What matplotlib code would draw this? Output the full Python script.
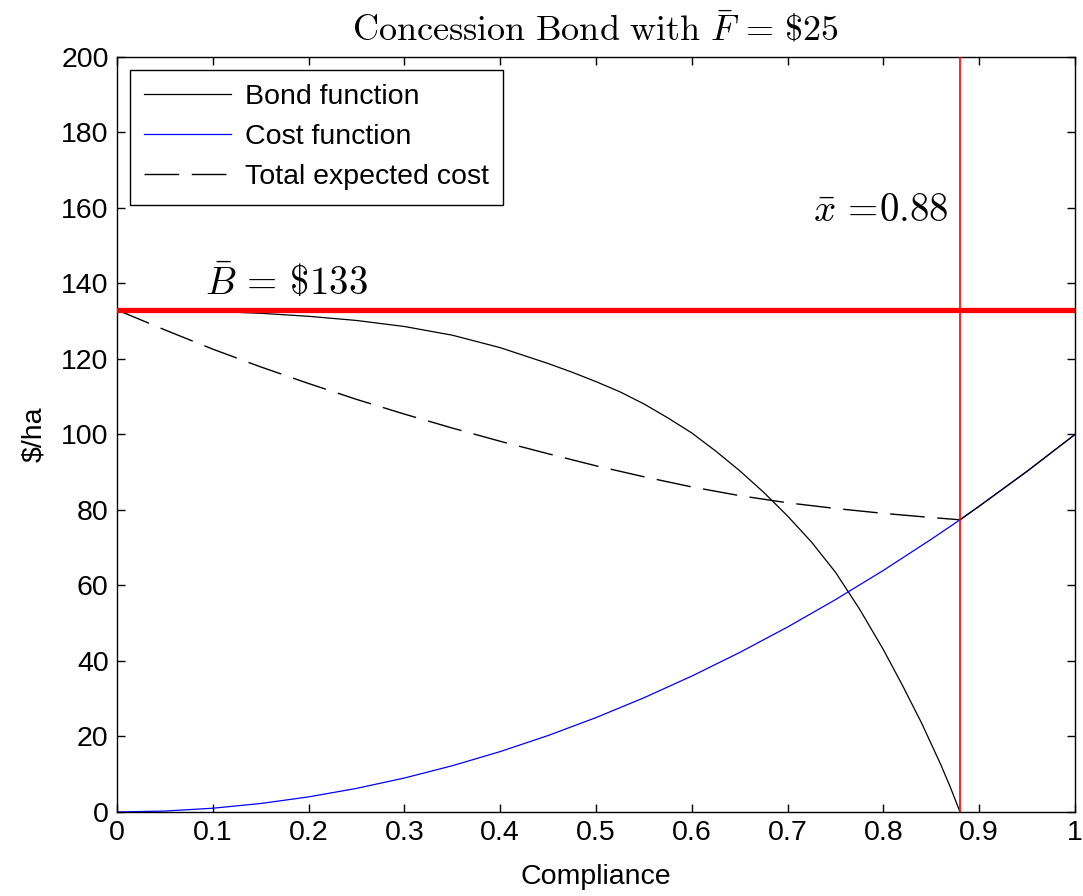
import matplotlib.pyplot as plt

plt.rcParams['font.family'] = ['Liberation Sans', 'DejaVu Sans']
plt.rcParams['mathtext.fontset'] = 'cm'

# compliance grid and curves
bond_x = [0, 0.05, 0.1, 0.15, 0.2, 0.25, 0.3, 0.35, 0.4, 0.45, 0.475, 0.5,
          0.525, 0.55, 0.575, 0.6, 0.625, 0.65, 0.675, 0.7, 0.725, 0.75,
          0.775, 0.8, 0.82, 0.84, 0.86, 0.87, 0.88]
bond_y = [133, 132.9, 132.6, 132.1, 131.3, 130.2, 128.6, 126.3, 123.0, 118.8,
          116.5, 114.0, 111.3, 108.1, 104.4, 100.4, 95.6, 90.4, 84.7, 78.4,
          71.5, 63.5, 53.8, 43, 33.5, 23.5, 12.5, 6.5, 0]

cost_x = [0, 0.05, 0.1, 0.15, 0.2, 0.25, 0.3, 0.35, 0.4, 0.45, 0.5, 0.55,
          0.6, 0.65, 0.7, 0.75, 0.8, 0.85, 0.88, 0.9, 0.95, 1.0]
cost_y = [0, 0.25, 1, 2.25, 4, 6.25, 9, 12.25, 16, 20.25, 25, 30.25, 36,
          42.25, 49, 56.25, 64, 72.25, 77.4, 81, 90.25, 100]

total_x = [0, 0.05, 0.1, 0.15, 0.2, 0.25, 0.3, 0.35, 0.4, 0.45, 0.5, 0.55,
           0.6, 0.65, 0.7, 0.75, 0.8, 0.85, 0.88]
total_y = [133, 127.7, 122.6, 117.9, 113.5, 109.3, 105.4, 101.7, 98.2, 94.9,
           91.7, 88.8, 86.1, 83.8, 81.9, 80.4, 79.1, 78.0, 77.4]
# past x_bar the bond is zero, so total cost follows the cost curve
tail_x = [0.88, 0.9, 0.95, 1.0]
tail_y = [77.4, 81, 90.25, 100]

B_bar = 133
x_bar = 0.88

fs = 20.5

fig = plt.figure(figsize=(10.83, 8.96), dpi=100)
ax = fig.add_axes([0.108, 0.09375, 0.8846, 0.8427])

ax.plot(bond_x, bond_y, color='k', lw=0.9, label='Bond function')
ax.plot(cost_x, cost_y, color='b', lw=0.9, label='Cost function')
ax.plot(total_x, total_y, color='k', lw=1.0, dashes=(25, 9),
        label='Total expected cost')
ax.plot(tail_x, tail_y, color='k', lw=0.9)

ax.axhline(B_bar, color='r', lw=3.8, zorder=3)
ax.axvline(x_bar, color='r', lw=1.2, zorder=3)

ax.text(0.092, 137, r'$\bar{B}\,=\,\$%d$' % B_bar, fontsize=28)
ax.text(0.727, 156.5, r'$\bar{x}\,=\!%.2f$' % x_bar, fontsize=28)

ax.set_xlim(0, 1)
ax.set_ylim(0, 200)
ax.set_xticks([0, 0.1, 0.2, 0.3, 0.4, 0.5, 0.6, 0.7, 0.8, 0.9, 1])
ax.set_xticklabels(['0', '0.1', '0.2', '0.3', '0.4', '0.5', '0.6', '0.7',
                    '0.8', '0.9', '1'])
ax.set_yticks(range(0, 201, 20))
ax.tick_params(direction='in', length=6, width=1, top=True, right=True,
               labelsize=fs, pad=6)
for s in ax.spines.values():
    s.set_linewidth(1.0)

ax.set_title(r'$\mathrm{Concession\ Bond\ with}\ \bar{F}\,=\,\$25$',
             fontsize=26, pad=12)
ax.set_xlabel('Compliance', fontsize=fs, labelpad=13)
ax.set_ylabel('$/ha', fontsize=fs, labelpad=10)

leg = ax.legend(loc='upper left', fontsize=fs, handlelength=3.05,
                fancybox=False, framealpha=1, edgecolor='k',
                borderaxespad=0.45, borderpad=0.5, labelspacing=0.5,
                handletextpad=0.5)
leg.get_frame().set_linewidth(1.0)

fig.savefig('out.png', dpi=100)
